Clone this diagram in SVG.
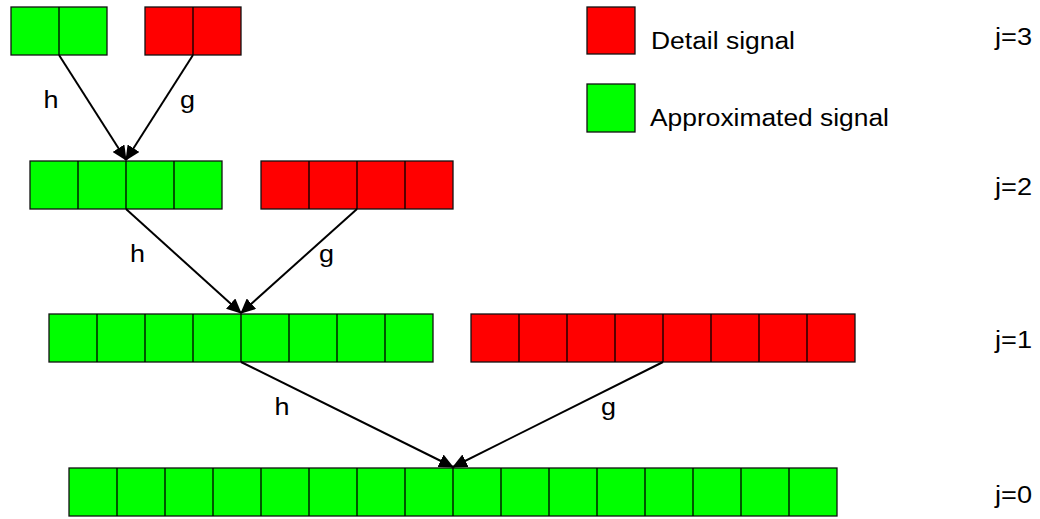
<svg xmlns="http://www.w3.org/2000/svg" width="1040" height="519" viewBox="0 0 1040 519">
  <style>
    .a { fill: #00ff00; stroke: #111; stroke-width: 1.3; }
    .d { fill: #ff0000; stroke: #111; stroke-width: 1.3; }
    .cell { fill: none; stroke: #000; stroke-width: 1.3; }
    .t { font-family: "Liberation Sans", Arial, sans-serif; font-size: 23.5px; fill: #000; }
    .conn { stroke: #000; stroke-width: 2; fill: none; marker-end: url(#head); }
  </style>
  <defs>
    <marker id="head" markerUnits="userSpaceOnUse" markerWidth="15" markerHeight="14" refX="14" refY="7" orient="auto">
      <path d="M0,0 L15,7 L0,14 z" fill="#000"/>
    </marker>
  </defs>
  <rect width="1040" height="519" fill="#fff"/>

  <!-- level j=3 -->
  <g id="approx-j3">
    <rect class="a" x="11" y="7" width="96" height="48"/>
    <path class="cell" d="M59,7V55"/>
  </g>
  <g id="detail-j3">
    <rect class="d" x="145" y="7" width="96" height="48"/>
    <path class="cell" d="M193,7V55"/>
  </g>

  <!-- level j=2 -->
  <g id="approx-j2">
    <rect class="a" x="30" y="161" width="192" height="48"/>
    <path class="cell" d="M78,161V209M126,161V209M174,161V209"/>
  </g>
  <g id="detail-j2">
    <rect class="d" x="261" y="161" width="192" height="48"/>
    <path class="cell" d="M309,161V209M357,161V209M405,161V209"/>
  </g>

  <!-- level j=1 -->
  <g id="approx-j1">
    <rect class="a" x="49" y="314" width="384" height="48"/>
    <path class="cell" d="M97,314V362M145,314V362M193,314V362M241,314V362M289,314V362M337,314V362M385,314V362"/>
  </g>
  <g id="detail-j1">
    <rect class="d" x="471" y="314" width="384" height="48"/>
    <path class="cell" d="M519,314V362M567,314V362M615,314V362M663,314V362M711,314V362M759,314V362M807,314V362"/>
  </g>

  <!-- level j=0 -->
  <g id="signal-j0">
    <rect class="a" x="69" y="468" width="768" height="48"/>
    <path class="cell" d="M117,468V516M165,468V516M213,468V516M261,468V516M309,468V516M357,468V516M405,468V516M453,468V516M501,468V516M549,468V516M597,468V516M645,468V516M693,468V516M741,468V516M789,468V516"/>
  </g>

  <!-- legend -->
  <g id="legend-detail">
    <rect class="d" x="587" y="7" width="48" height="47"/>
    <text class="t" x="651" y="48.5" textLength="144" lengthAdjust="spacingAndGlyphs">Detail signal</text>
  </g>
  <g id="legend-approx">
    <rect class="a" x="587" y="84" width="48" height="48"/>
    <text class="t" x="650" y="125.5" textLength="239" lengthAdjust="spacingAndGlyphs">Approximated signal</text>
  </g>

  <!-- scale labels -->
  <g id="levels">
    <text class="t" x="995" y="45" textLength="37" lengthAdjust="spacingAndGlyphs">j=3</text>
    <text class="t" x="995" y="195" textLength="37" lengthAdjust="spacingAndGlyphs">j=2</text>
    <text class="t" x="995" y="348" textLength="37" lengthAdjust="spacingAndGlyphs">j=1</text>
    <text class="t" x="995" y="503" textLength="37" lengthAdjust="spacingAndGlyphs">j=0</text>
  </g>

  <!-- reconstruction connectors with filter labels -->
  <g id="connectors">
    <line class="conn" x1="59" y1="55" x2="126" y2="160"/>
    <line class="conn" x1="193" y1="55" x2="126" y2="160"/>
    <line class="conn" x1="126" y1="209" x2="241" y2="313"/>
    <line class="conn" x1="357" y1="209" x2="241" y2="313"/>
    <line class="conn" x1="241" y1="362" x2="453" y2="467"/>
    <line class="conn" x1="663" y1="362" x2="453" y2="467"/>
    <text class="t" x="43.5" y="108" textLength="15" lengthAdjust="spacingAndGlyphs">h</text>
    <text class="t" x="180" y="108" textLength="15" lengthAdjust="spacingAndGlyphs">g</text>
    <text class="t" x="130" y="262" textLength="15" lengthAdjust="spacingAndGlyphs">h</text>
    <text class="t" x="319" y="262" textLength="15" lengthAdjust="spacingAndGlyphs">g</text>
    <text class="t" x="274.5" y="415" textLength="15" lengthAdjust="spacingAndGlyphs">h</text>
    <text class="t" x="601" y="415" textLength="15" lengthAdjust="spacingAndGlyphs">g</text>
  </g>
</svg>
